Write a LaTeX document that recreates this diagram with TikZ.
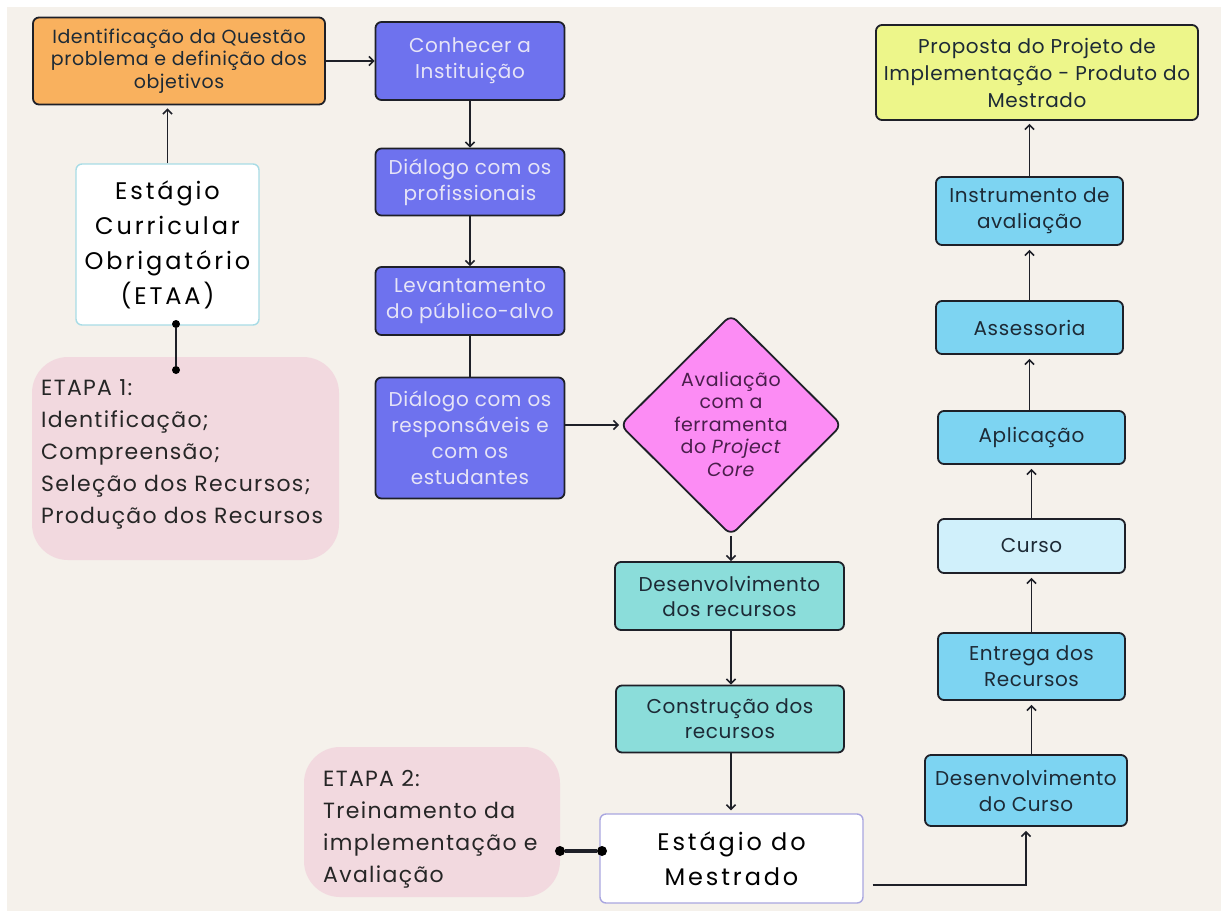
\documentclass[tikz,border=0pt]{standalone}
\usepackage{fontspec}
\setmainfont{Poppins}[LetterSpace=4]
\newfontfamily\boxf{Poppins}[LetterSpace=3]
\newfontfamily\bigf{Poppins}[LetterSpace=12]
\newfontfamily\etf{Poppins}[LetterSpace=6]
\usetikzlibrary{arrows.meta,shapes.geometric}
\definecolor{bg}{HTML}{F5F1EB}
\definecolor{edge}{HTML}{1E2028}
\definecolor{orangef}{HTML}{F9B15E}
\definecolor{purplef}{HTML}{6E72EE}
\definecolor{purplet}{HTML}{E6E4F7}
\definecolor{magf}{HTML}{FC8CF4}
\definecolor{magt}{HTML}{4A1E4C}
\definecolor{tealf}{HTML}{8BDDDA}
\definecolor{bluef}{HTML}{7DD4F2}
\definecolor{lbluef}{HTML}{D0F0FB}
\definecolor{limef}{HTML}{EDF68A}
\definecolor{pinkf}{HTML}{F2D9DF}
\definecolor{cyanb}{HTML}{A8DCE6}
\definecolor{lavb}{HTML}{A9A6E0}
\definecolor{darkt}{HTML}{1D2A36}
\newcommand\fsz[2]{\fontsize{#1}{#2}\selectfont}
\begin{document}
\begin{tikzpicture}[x=1pt,y=-1pt,
  box/.style={draw=edge, line width=1.8pt, rounded corners=6pt, align=center, inner sep=0pt},
  obox/.style={box, fill=orangef, text=darkt, font=\boxf\fsz{19}{22.5}},
  pbox/.style={box, fill=purplef, text=purplet, font=\boxf\fsz{20}{26}},
  tbox/.style={box, fill=tealf, text=darkt, font=\boxf\fsz{20}{25}},
  bbox/.style={box, fill=bluef, text=darkt, font=\boxf\fsz{20}{26}},
  wbox/.style={box, fill=white, text=black, font=\bigf\fsz{24}{35}},
  blob/.style={fill=pinkf, rounded corners=36pt},
  btext/.style={anchor=west, align=left, inner sep=0pt, text=black!85, font=\etf\fsz{22}{32}},
  arr/.style={draw=edge, line width=1.6pt, -{Straight Barb[length=4.5pt,width=9pt]}},
  conn/.style={draw=edge, line width=1.6pt},
  dot/.style={circle, fill=black, inner sep=0pt, minimum size=8pt}
]
\useasboundingbox (0,0) rectangle (1221,911);
\fill[white] (0,0) rectangle (1221,911);
\fill[bg] (7,7) rectangle (1221,911);

% pink blobs
\fill[blob] (32,357) rectangle (339,560);
\fill[blob] (304,747) rectangle (560,897);
\node[btext] (e1) at (41,454) {ETAPA 1:\\Identificação;\\Compreensão;\\Seleção dos Recursos;\\Produção dos Recursos};
\node[btext] (e2) at (323,829) {ETAPA 2:\\Treinamento da\\implementação e\\Avaliação};

% left column
\node[obox, minimum width=292pt, minimum height=87pt] (q) at (179,61) {Identificação da Questão\\problema e definição dos\\objetivos};
\node[wbox, draw=cyanb, line width=1.4pt, minimum width=183pt, minimum height=161pt] (etaa) at (167.5,244.5) {Estágio\\Curricular\\Obrigatório\\(ETAA)};

% middle column
\node[pbox, minimum width=189pt, minimum height=78pt] (c1) at (470,61) {Conhecer a\\Instituição};
\node[pbox, minimum width=189pt, minimum height=67pt] (c2) at (470,182) {Diálogo com os\\profissionais};
\node[pbox, minimum width=189pt, minimum height=68pt] (c3) at (470,301) {Levantamento\\do público-alvo};
\node[pbox, minimum width=189pt, minimum height=121pt] (c4) at (470,438) {Diálogo com os\\responsáveis e\\com os\\estudantes};

\node[diamond, draw=edge, line width=1.8pt, fill=magf, rounded corners=8pt, minimum width=222pt, minimum height=221pt, inner sep=0pt] (d) at (731,425) {};
\node[align=center, text=magt, font=\boxf\fsz{19}{22.5}, inner sep=0pt] (dt) at (731,424) {Avaliação\\com a\\ferramenta\\do \textit{Project}\\\textit{Core}};

\node[tbox, minimum width=229pt, minimum height=68pt] (t1) at (729.5,596) {Desenvolvimento\\dos recursos};
\node[tbox, minimum width=228pt, minimum height=67pt] (t2) at (730,719) {Construção dos\\recursos};
\node[wbox, draw=lavb, line width=1.4pt, minimum width=263pt, minimum height=89pt] (m) at (731.5,858.5) {Estágio do\\Mestrado};

% right column
\node[box, fill=limef, text=darkt, font=\boxf\fsz{20}{27}, minimum width=322pt, minimum height=95pt] (p) at (1037,72.5) {Proposta do Projeto de\\Implementação - Produto do\\Mestrado};
\node[bbox, minimum width=187pt, minimum height=68pt] (r6) at (1029.5,211) {Instrumento de\\avaliação};
\node[bbox, minimum width=187pt, minimum height=53pt] (r5) at (1029.5,327.5) {Assessoria};
\node[bbox, minimum width=187pt, minimum height=53pt] (r4) at (1031.5,437.5) {Aplicação};
\node[bbox, fill=lbluef, minimum width=187pt, minimum height=54pt] (r3) at (1031.5,546) {Curso};
\node[bbox, minimum width=187pt, minimum height=67pt] (r2) at (1031.5,666.5) {Entrega dos\\Recursos};
\node[bbox, minimum width=202pt, minimum height=71pt] (r1) at (1026,790.5) {Desenvolvimento\\do Curso};

% dots
\node[dot] (k1) at (176,324) {};
\node[dot] (k2) at (176,370) {};
\node[dot, minimum size=10pt] (k3) at (560,851) {};
\node[dot, minimum size=10pt] (k4) at (602,851) {};
\coordinate (k) at (1026,885);

% connectors
\draw[arr] (q.east) -- (c1.west);
\draw[arr] (etaa.north) -- ([yshift=-3pt]etaa.north |- q.south);
\draw[arr] (c1.south) -- (c2.north);
\draw[arr] (c2.south) -- (c3.north);
\draw[conn] (c3.south) -- (c4.north);
\draw[arr] (d.west -| c4.east) -- (d.west);
\draw[arr] (d.south) -- (d.south |- t1.north);
\draw[arr] (t1.south -| d.south) -- (d.south |- t2.north);
\draw[arr] (t2.south -| d.south) -- ([yshift=3pt]d.south |- m.north);
\draw[conn, line width=1.8pt] (k1) -- (k2);
\draw[conn, line width=3.5pt] (k3) -- (k4);
\draw[arr] ([xshift=9pt]m.east |- k) -- (k) -- ([yshift=-4pt]r1.south);
\draw[arr] (r1.north -| r2.south) -- ([yshift=-4pt]r2.south);
\draw[arr] (r2.north) -- ([yshift=-4pt]r3.south);
\draw[arr] (r3.north) -- ([yshift=-4pt]r4.south);
\draw[arr] (r4.north -| r5.south) -- ([yshift=-4pt]r5.south);
\draw[arr] (r5.north) -- ([yshift=-4pt]r6.south);
\draw[arr] (r6.north) -- ([yshift=-3pt]r6.north |- p.south);
\end{tikzpicture}
\end{document}
